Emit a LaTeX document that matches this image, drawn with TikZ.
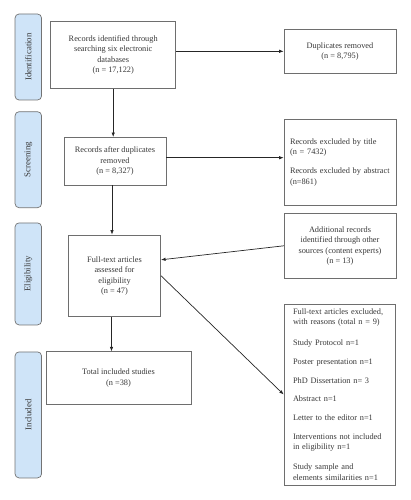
\documentclass[tikz,border=0pt]{standalone}
\usepackage{fontspec}
\setmainfont{Liberation Serif}
\usetikzlibrary{arrows.meta}
\definecolor{lblfill}{RGB}{207,228,248}
\definecolor{lblline}{RGB}{115,115,115}
\definecolor{boxline}{RGB}{110,110,110}
\definecolor{txt}{RGB}{55,55,55}
\begin{document}
\begin{tikzpicture}[x=1pt,y=-1pt,
  box/.style={draw=boxline, line width=0.7pt, text=txt, font=\fontsize{8.3}{10.5}\selectfont, align=center, inner sep=0pt},
  lbox/.style={box, align=left},
  lbl/.style={draw=lblline, fill=lblfill, rounded corners=4pt, line width=0.7pt, text=txt, font=\fontsize{8.8}{10}\selectfont, rotate=90, inner sep=0pt, minimum height=26.5pt},
  arr/.style={draw=black!85, line width=0.7pt, -{Latex[length=4.5pt,width=3.5pt]}}]
\useasboundingbox (0,0) rectangle (410,500);
% phase labels
\node[lbl, minimum width=86pt] (L1) at (28.3,57) {Identification};
\node[lbl, minimum width=96pt] (L2) at (28.3,159.7) {Screening};
\node[lbl, minimum width=102pt] (L3) at (28.3,273.9) {Eligibility};
\node[lbl, minimum width=126pt] (L4) at (28.3,414.9) {Included};
% boxes
\node[box, minimum width=125pt, minimum height=66.6pt] (box1) at (113.2,55)
  {Records identified through\\searching six electronic\\databases\\(n = 17,122)};
\node[box, minimum width=112pt, minimum height=44pt] (dup) at (340,51.3)
  {Duplicates removed\\(n = 8,795)};
\node[box, minimum width=102pt, minimum height=47.7pt] (after) at (115,161.2)
  {Records after duplicates\\removed\\(n = 8,327)};
\node[lbox, minimum width=112pt, minimum height=86.7pt, text width=100pt] (excl) at (340,162.3)
  {Records excluded by title\\(n = 7432)\\[8.3pt]Records excluded by abstract\\(n=861)};
\node[box, minimum width=111.7pt, minimum height=65pt] (add) at (340,245.8)
  {Additional records\\identified through other\\sources (content experts)\\(n = 13)};
\node[box, minimum width=92.4pt, minimum height=81.7pt] (full) at (114.5,275.8)
  {Full-text articles\\assessed for\\eligibility\\(n = 47)};
\node[lbox, minimum width=111pt, minimum height=181pt, text width=93pt] (excl2) at (339.5,394.5)
  {Full-text articles excluded,\\with reasons (total n = 9)\\[10pt]
   Study Protocol n=1\\[8.3pt]
   Poster presentation n=1\\[8.3pt]
   PhD Dissertation n= 3\\[8.3pt]
   Abstract n=1\\[8.3pt]
   Letter to the editor n=1\\[8.3pt]
   Interventions not included\\in eligibility n=1\\[9.3pt]
   Study sample and\\elements similarities n=1};
\node[box, minimum width=145pt, minimum height=52.6pt] (total) at (118.5,378)
  {Total included studies\\(n =38)};
% connectors
\draw[arr] (dup.west -| box1.east) -- (dup.west);
\draw[arr] (box1.south) -- (box1.south |- after.north);
\draw[arr] ([yshift=3.5pt]after.east) -- ([yshift=3.5pt]after.east -| excl.west);
\draw[arr] ([xshift=-3pt]after.south) -- ([xshift=-3pt]after.south |- full.north);
\draw[arr] (add.west) -- ([yshift=16pt]full.east);
\draw[arr] (full.east) -- (excl2.west);
\draw[arr] ([xshift=-3pt]full.south) -- ([xshift=-3pt]full.south |- total.north);
\end{tikzpicture}
\end{document}
